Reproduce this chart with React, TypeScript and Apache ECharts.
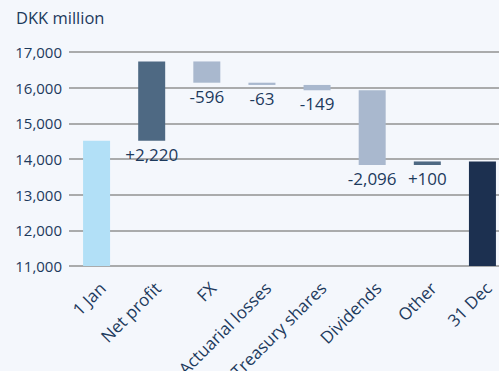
import React, { useEffect, useRef } from "react";
import * as echarts from "echarts";

const categories = ["1 Jan", "Net profit", "FX", "Actuarial losses", "Treasury shares", "Dividends", "Other", "31 Dec"];
const openingValue = 14515;
const changes = [2220, -596, -63, -149, -2096, 100];
const changeLabels = ["+2,220", "-596", "-63", "-149", "-2,096", "+100"];
const yMin = 11000;
const yMax = 17000;
const yStep = 1000;

const COLORS = {
  opening: "#b2e0f7",
  positive: "#4e6983",
  negative: "#a9b8ce",
  closing: "#1c3050",
  text: "#1d3a5c",
  grid: "#929292",
  bg: "#f4f7fc",
};

export default function App() {
  const ref = useRef<HTMLDivElement>(null);
  useEffect(() => {
    if (!ref.current) return;
    document.body.style.margin = "0";
    const chart = echarts.init(ref.current, null, { renderer: "svg" });

    const base: number[] = [];
    const vis: any[] = [];
    let running = openingValue;
    base.push(0);
    vis.push({ value: openingValue, itemStyle: { color: COLORS.opening }, label: { show: false } });
    changes.forEach((d, i) => {
      const next = running + d;
      base.push(Math.min(running, next));
      vis.push({
        value: Math.abs(d),
        itemStyle: { color: d >= 0 ? COLORS.positive : COLORS.negative },
        label: { show: true, formatter: changeLabels[i] },
      });
      running = next;
    });
    base.push(0);
    vis.push({ value: running, itemStyle: { color: COLORS.closing }, label: { show: false } });

    chart.setOption({
      animation: false,
      backgroundColor: COLORS.bg,
      textStyle: { fontFamily: "Open Sans" },
      graphic: [
        {
          type: "text",
          left: 16,
          top: 9,
          style: { text: "DKK million", fontSize: 16.5, fill: COLORS.text, fontFamily: "Open Sans" },
        },
      ],
      grid: { left: 69, top: 52, width: 441, height: 214, outerBoundsMode: "none", containLabel: false },
      xAxis: {
        type: "category",
        data: categories,
        axisLine: { show: false },
        axisTick: { show: false },
        axisLabel: {
          rotate: 45,
          interval: 0,
          fontSize: 17,
          color: COLORS.text,
          margin: 13,
          verticalAlign: "top",
          fontFamily: "Open Sans",
        },
      },
      yAxis: {
        type: "value",
        min: yMin,
        max: yMax,
        interval: yStep,
        axisLine: { show: false },
        axisTick: { show: false },
        splitLine: { lineStyle: { color: COLORS.grid, width: 1.5 } },
        axisLabel: {
          fontSize: 15,
          color: COLORS.text,
          margin: 7,
          fontFamily: "Open Sans",
          formatter: (v: number) => v.toLocaleString("en-US"),
        },
      },
      series: [
        {
          type: "bar",
          stack: "wf",
          data: base,
          itemStyle: { color: "transparent" },
          barWidth: 27,
          silent: true,
        },
        {
          type: "bar",
          stack: "wf",
          data: vis,
          barWidth: 27,
          label: {
            position: "bottom",
            distance: 5,
            fontSize: 17,
            color: COLORS.text,
            fontFamily: "Open Sans",
          },
        },
      ],
    });
    return () => chart.dispose();
  }, []);
  return <div ref={ref} style={{ position: "fixed", left: 0, top: 0, width: 499, height: 371 }} />;
}
